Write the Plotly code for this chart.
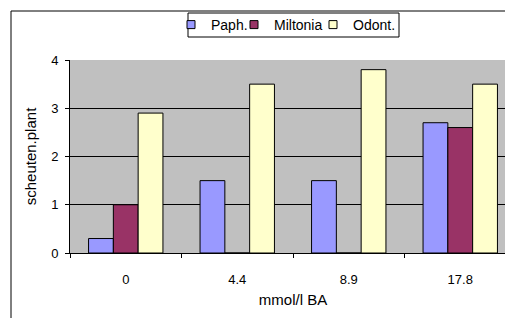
import plotly.graph_objects as go

categories = ["0", "4.4", "8.9", "17.8"]
paph = [0.3, 1.5, 1.5, 2.7]
miltonia = [1.0, 0, 0, 2.6]
odont = [2.9, 3.5, 3.8, 3.5]
series_names = ["Paph.", "Miltonia", "Odont."]
colors = ["#9999FF", "#993366", "#FFFFCC"]
legend_ids = ["legend", "legend2", "legend3"]

fig = go.Figure()
for name, vals, col in zip(series_names, [paph, miltonia, odont], colors):
    fig.add_trace(go.Bar(x=categories, y=vals, name=name, showlegend=False,
                         marker=dict(color=col, line=dict(color="black", width=1))))
# legend entries (small square swatches like the original)
for name, col, lg in zip(series_names, colors, legend_ids):
    fig.add_trace(go.Scatter(x=[None], y=[None], mode="markers", name=name, legend=lg,
                             marker=dict(symbol="square", size=8, color=col,
                                         line=dict(color="black", width=1))))

# page body has an 8px margin; work in figure coordinates
W, H = 513, 318
L, R, T, B = 62, 508, 52, 245
pw, ph = R - L, B - T

def px(xp):
    return (xp - L) / pw

def py(yp):
    return (B - yp) / ph

FAM = "Liberation Sans, Arial, sans-serif"
font = dict(family=FAM, size=13, color="black")
tfont = dict(family=FAM, size=15, color="black")
lfont = dict(family=FAM, size=14, color="black")

def leg(xleft):
    return dict(orientation="h", x=px(xleft), xanchor="left", y=py(17), yanchor="middle",
                borderwidth=0, bgcolor="rgba(0,0,0,0)", font=lfont, itemwidth=30)

fig.update_layout(
    width=W, height=H,
    margin=dict(l=L, r=W - R, t=T, b=H - B, autoexpand=False),
    paper_bgcolor="white",
    plot_bgcolor="#C0C0C0",
    font=font,
    barmode="group",
    bargap=0.333,
    bargroupgap=0,
    showlegend=True,
    legend=leg(163),
    legend2=leg(226),
    legend3=leg(305),
    xaxis=dict(type="category", range=[-0.5, 3.5],
               showline=True, linecolor="black", linewidth=1,
               ticks="outside", tickson="boundaries", ticklen=4, tickcolor="black",
               showgrid=False, tickfont=font, automargin=False, ticklabelstandoff=14,
               title=dict(text="mmol/l BA", font=tfont, standoff=8)),
    yaxis=dict(range=[0, 4], dtick=1, showline=True, linecolor="black", linewidth=1,
               ticks="outside", ticklen=4, tickcolor="black",
               showgrid=True, gridcolor="black", gridwidth=1, zeroline=False,
               tickfont=font, automargin=False, ticklabelstandoff=4,
               title=dict(text="scheuten.plant", font=tfont, standoff=10)),
    shapes=[
        dict(type="rect", xref="paper", yref="paper",
             x0=px(3), x1=px(560), y0=py(360), y1=py(3),
             line=dict(color="black", width=1), fillcolor="rgba(0,0,0,0)", layer="below"),
        dict(type="rect", xref="paper", yref="paper",
             x0=px(180), x1=px(391), y0=py(29), y1=py(5),
             line=dict(color="black", width=1), fillcolor="white", layer="above"),
    ],
)

fig.write_html("out.html")
